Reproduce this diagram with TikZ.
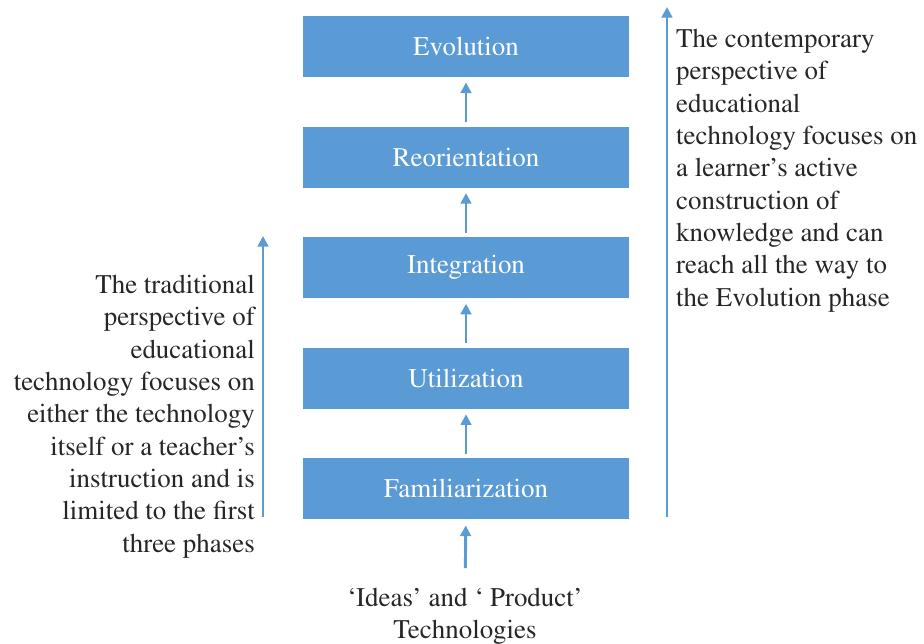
\documentclass[tikz,border=0pt]{standalone}
\usepackage[T1]{fontenc}
\renewcommand{\rmdefault}{ptm}
\usetikzlibrary{arrows.meta}
\definecolor{phaseblue}{HTML}{5B9BD5}
\definecolor{notegray}{HTML}{262626}

\begin{document}
\begin{tikzpicture}[x=0.03cm,y=-0.03cm,
    bigtext/.style={font=\fontsize{23}{27.6}\selectfont},
    phase/.style={bigtext,fill=phaseblue,text=white,minimum width=9.78cm,minimum height=1.83cm,inner sep=0pt},
    note/.style={bigtext,text=notegray,inner sep=0pt},
    flow/.style={draw=phaseblue,line width=2.5pt,-{Triangle[width=9pt,length=9pt]}}]
    \useasboundingbox (0,0) rectangle (924,644);
    \foreach \name/\txt [count=\i] in {evo/Evolution,reo/Reorientation,int/Integration,uti/Utilization,fam/Familiarization}
       \node[phase] (\name) at (466,{46.5+110.6*(\i-1)}) {\txt};
    \foreach \a/\b in {fam/uti,uti/int,int/reo,reo/evo}
       \draw[flow,shorten <=3.5pt,shorten >=4.5pt] (\a) -- (\b);
    \node[note,align=center,anchor=north] (src) at (465,588) {`Ideas' and ` Product'\\Technologies};
    \draw[flow,shorten <=17pt,shorten >=5pt] (src) -- (fam);
    % the two perspectives
    \coordinate (tradlow) at (263,517);
    \coordinate (tradtop) at (263,236);
    \coordinate (contlow) at (667,517);
    \coordinate (conttop) at (667,7);
    \draw[flow] (tradlow) -- (tradtop);
    \draw[flow] (contlow) -- (conttop);
    \node[note,align=right,anchor=north east] (trad) at (255,275) {The traditional\\perspective of\\educational\\technology focuses on\\either the technology\\itself or a teacher's\\instruction and is\\limited to the first\\three phases};
    \node[note,align=left,anchor=north west] (cont) at (676,29) {The contemporary\\perspective of\\educational\\technology focuses on\\a learner's active\\construction of\\knowledge and can\\reach all the way to\\the Evolution phase};
\end{tikzpicture}
\end{document}
